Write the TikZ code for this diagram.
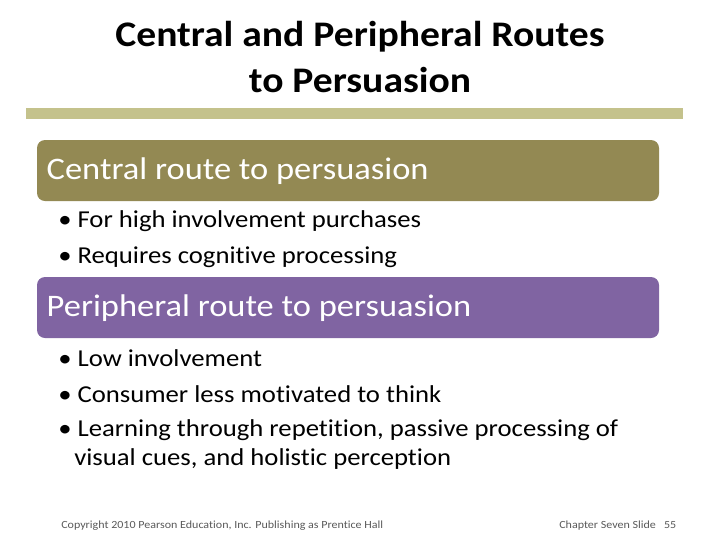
\documentclass[tikz,border=0pt]{standalone}
\usepackage{fontspec}
\setmainfont[FakeStretch=1.1,Ligatures={NoCommon}]{Carlito}
\definecolor{barc}{HTML}{C4C28C}
\definecolor{olive}{HTML}{938953}
\definecolor{purp}{HTML}{8064A2}
\definecolor{foot}{HTML}{595959}
\begin{document}
\begin{tikzpicture}[x=0.75pt,y=-0.75pt,
  head/.style={fill=#1,rounded corners=6pt},
  headtxt/.style={anchor=west,text=white,font=\fontsize{23.5}{26}\selectfont},
  bul/.style={anchor=west,font=\fontsize{18.2}{20}\selectfont,inner sep=0pt},
  foottxt/.style={anchor=west,text=foot,font=\fontsize{8.2}{9}\selectfont,inner sep=0pt}]
\useasboundingbox (0,0) rectangle (720,540);
\node[align=center,font=\bfseries\fontsize{27}{35}\selectfont] (title) at (360,57) {Central and Peripheral Routes\\to Persuasion};
\fill[barc] (26,108) rectangle (683,119);
\fill[head=olive] (37,140) rectangle (659,201);
\node[headtxt] (h1) at (42,171) {Central route to persuasion};
\node[bul] (b1) at (58,221) {• For high involvement purchases};
\node[bul] (b2) at (58,257) {• Requires cognitive processing};
\fill[head=purp] (37,277) rectangle (659,338);
\node[headtxt] (h2) at (42,308) {Peripheral route to persuasion};
\node[bul] (c1) at (58,358) {• Low involvement};
\node[bul] (c2) at (58,394) {• Consumer less motivated to think};
\node[bul] (c3) at (58,430) {• Learning through repetition, passive processing of};
\node[bul] (c4) at (74,459) {visual cues, and holistic perception};
\node[foottxt] (f1) at (61,526) {Copyright 2010 Pearson Education, Inc. Publishing as Prentice Hall};
\node[foottxt] (f2) at (559,526) {Chapter Seven Slide \ \ 55};
\end{tikzpicture}
\end{document}
